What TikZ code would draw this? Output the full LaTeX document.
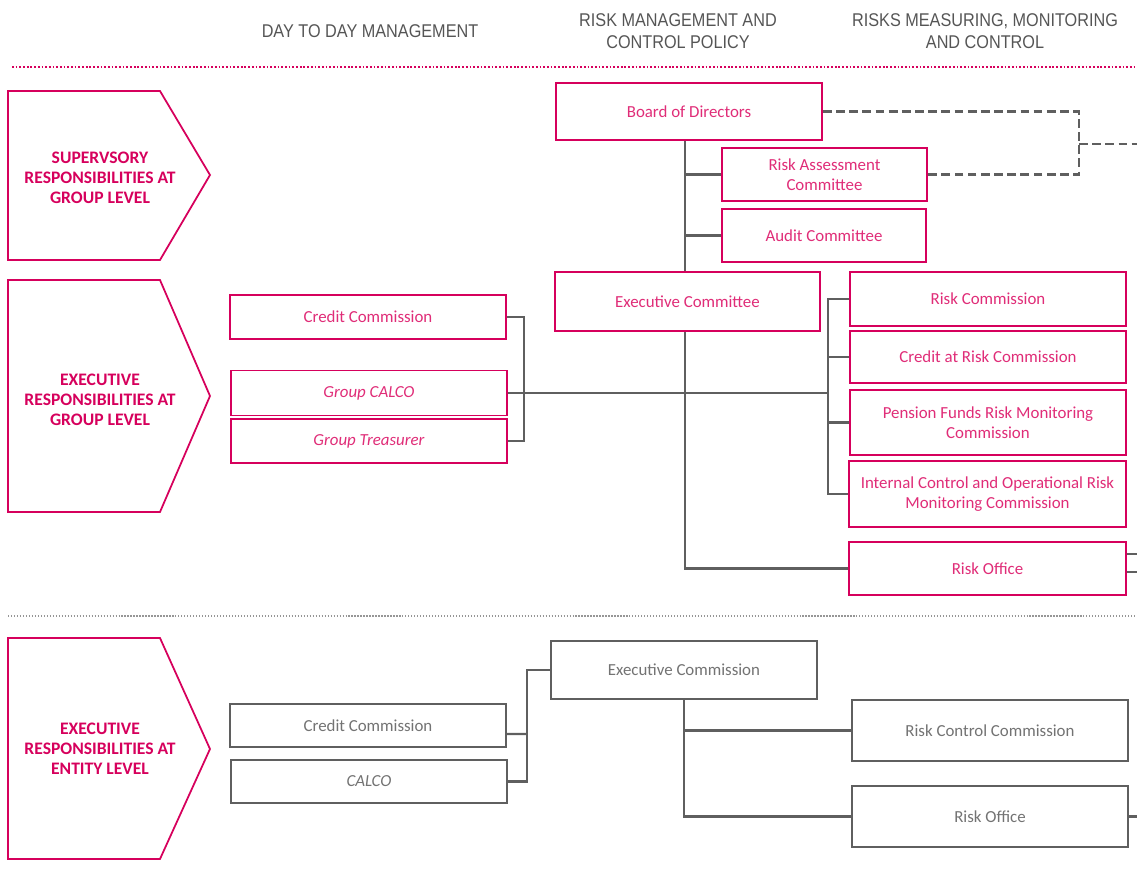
\documentclass[tikz,border=0pt]{standalone}
\usepackage{fontspec}
\setmainfont{Carlito}
\newfontfamily\headfont[FakeStretch=0.88]{Liberation Sans}
\usetikzlibrary{positioning}
\definecolor{brandpink}{RGB}{214,0,92}
\definecolor{pinktext}{RGB}{224,45,120}
\definecolor{linegray}{RGB}{95,95,95}
\definecolor{boxtext}{RGB}{115,115,115}
\definecolor{headgray}{RGB}{85,85,85}
\definecolor{dotgray}{RGB}{150,150,150}

\tikzset{
  pinkbox/.style={draw=brandpink, line width=1pt, fill=white, rectangle, text=pinktext, align=center, font=\fontsize{9.6}{11.4}\selectfont, inner sep=1pt},
  graybox/.style={pinkbox, draw=linegray, text=boxtext},
  link/.style={draw=linegray, line width=1.2pt},
  dashlink/.style={link, dash pattern=on 5pt off 2.5pt},
  levelshape/.style={draw=brandpink, line width=1pt},
  leveltext/.style={text=brandpink, align=center, font=\fontsize{10}{11.3}\selectfont\bfseries},
  headtext/.style={text=headgray, align=center, font=\headfont\fontsize{10.5}{12.5}\selectfont},
}

\begin{document}
\begin{tikzpicture}[x=0.02cm, y=-0.02cm]
\useasboundingbox (0,0) rectangle (1137,872);

% column heads
\node[headtext] (hday) at (370,31) {DAY TO DAY MANAGEMENT};
\node[headtext] (hpolicy) at (678,31) {RISK MANAGEMENT AND\\CONTROL POLICY};
\node[headtext] (hmeasure) at (985,31) {RISKS MEASURING, MONITORING\\AND CONTROL};

% separators
\draw[brandpink, line width=1.6pt, dash pattern=on 1pt off 1.1pt] (12,67) -- (1137,67);
\draw[dotgray, line width=0.9pt, dash pattern=on 0.7pt off 1pt] (8,616) -- (1137,616);

% level arrows
\draw[levelshape] (8,91) -- (160,91) -- (210,175) -- (160,260) -- (8,260) -- cycle;
\draw[levelshape] (8,280) -- (160,280) -- (210,396) -- (160,512) -- (8,512) -- cycle;
\draw[levelshape] (8,638) -- (160,638) -- (210,749) -- (160,859) -- (8,859) -- cycle;
\node[leveltext] (lsup) at (100,178) {SUPERVSORY\\RESPONSIBILITIES AT\\GROUP LEVEL};
\node[leveltext] (lgroup) at (100,400) {EXECUTIVE\\RESPONSIBILITIES AT\\GROUP LEVEL};
\node[leveltext] (lentity) at (100,749) {EXECUTIVE\\RESPONSIBILITIES AT\\ENTITY LEVEL};

% group level
\node[pinkbox, minimum width=5.32cm, minimum height=1.14cm] (board) at (689,111.5) {Board of Directors};
\node[pinkbox, minimum width=4.10cm, minimum height=1.06cm] (riskassess) at (824.5,174.5) {Risk Assessment\\Committee};
\node[pinkbox, minimum width=4.08cm, minimum height=1.06cm] (audit) at (824,235.5) {Audit Committee};
\node[pinkbox, minimum width=5.30cm, minimum height=1.18cm] (execcom) at (687.5,301.5) {Executive Committee};
\node[pinkbox, minimum width=5.52cm, minimum height=1.08cm] (riskcom) at (988,299) {Risk Commission};
\node[pinkbox, minimum width=5.52cm, minimum height=1.04cm] (creditrisk) at (988,357) {Credit at Risk Commission};
\node[pinkbox, minimum width=5.52cm, minimum height=1.30cm] (pension) at (988,422.5) {Pension Funds Risk Monitoring\\Commission};
\node[pinkbox, minimum width=5.54cm, minimum height=1.32cm] (intcontrol) at (987.5,494) {Internal Control and Operational Risk\\Monitoring Commission};
\node[pinkbox, minimum width=5.54cm, minimum height=1.06cm] (riskoffice) at (987.5,568.5) {Risk Office};
\node[pinkbox, minimum width=5.52cm, minimum height=0.88cm] (creditcom) at (368,317) {Credit Commission};
\node[pinkbox, minimum width=5.52cm, minimum height=0.90cm] (calco) at (369,393) {\itshape Group CALCO};
\node[pinkbox, minimum width=5.52cm, minimum height=0.88cm] (treasurer) at (369,441) {\itshape Group Treasurer};

\coordinate (gtrunk) at (685,0);
\coordinate (lbus) at (524,393);
\coordinate (rbus) at (828,393);
\coordinate (dbus) at (1079,144);
\coordinate (dend) at (1137,144);

\draw[link] (board.south -| gtrunk) -- (execcom.north -| gtrunk);
\draw[link] (riskassess.west -| gtrunk) -- (riskassess.west);
\draw[link] (audit.west -| gtrunk) -- (audit.west);
\draw[dashlink] (board.east) -| (dbus |- riskassess.east) -- (riskassess.east);
\draw[dashlink] (dbus) -- (dend);

\draw[link] (execcom.south -| gtrunk) |- (riskoffice.west);
\draw[link] (lbus) -- (rbus);
\draw[link] (creditcom.east) -| (lbus |- treasurer.east) -- (treasurer.east);
\draw[link] (calco.east) -- (lbus);
\draw[link] (riskcom.west) -| (rbus |- intcontrol.west) -- (intcontrol.west);
\draw[link] (creditrisk.west) -- (creditrisk.west -| rbus);
\draw[link] (pension.west) -- (pension.west -| rbus);
\draw[link] ([yshift=0.29cm]riskoffice.east) -- ++(11,0);
\draw[link] ([yshift=-0.07cm]riskoffice.east) -- ++(11,0);

% entity level
\node[graybox, minimum width=5.32cm, minimum height=1.16cm] (execcomm) at (684,670) {Executive Commission};
\node[graybox, minimum width=5.52cm, minimum height=0.86cm] (ecredit) at (368,725.5) {Credit Commission};
\node[graybox, minimum width=5.52cm, minimum height=0.86cm] (ecalco) at (369,781.5) {\itshape CALCO};
\node[graybox, minimum width=5.52cm, minimum height=1.22cm] (riskcontrol) at (990,730.5) {Risk Control Commission};
\node[graybox, minimum width=5.52cm, minimum height=1.22cm] (eriskoffice) at (990,816.5) {Risk Office};

\coordinate (ebus) at (527,734);

\draw[link] (ecalco.east) -| (ebus |- execcomm.west) -- (execcomm.west);
\draw[link] ([yshift=-0.17cm]ecredit.east) -- (ebus);
\draw[link] (execcomm.south) |- (eriskoffice.west);
\draw[link] (execcomm.south |- riskcontrol.west) -- (riskcontrol.west);
\draw[link] (eriskoffice.east) -- ++(9,0);
\end{tikzpicture}
\end{document}
